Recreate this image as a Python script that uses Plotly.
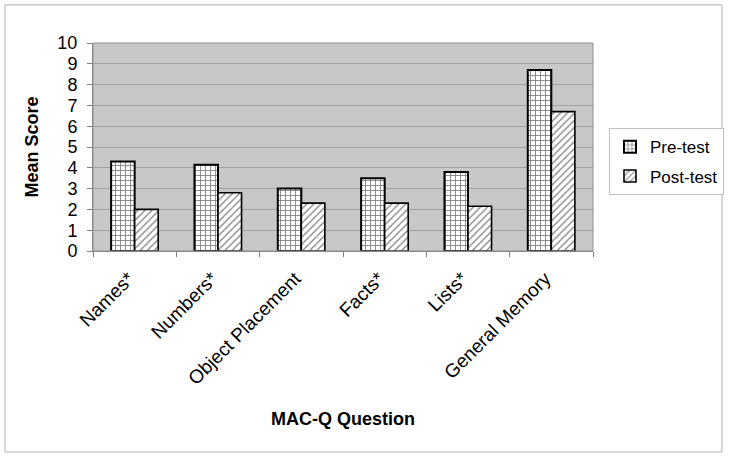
import plotly.graph_objects as go

categories = ["Names*", "Numbers*", "Object Placement", "Facts*", "Lists*", "General Memory"]
pre_test = [4.3, 4.15, 3.0, 3.5, 3.8, 8.7]
post_test = [2.0, 2.8, 2.3, 2.3, 2.15, 6.7]
y_ticks = list(range(0, 11))

FONT = "Liberation Sans, Arial, sans-serif"

fig = go.Figure()
fig.add_trace(go.Bar(
    x=categories, y=pre_test, name="Pre-test", legendgroup="pre",
    marker=dict(color="white", line=dict(color="black", width=2),
                pattern=dict(shape="+", fgcolor="black", bgcolor="white", size=5, solidity=0.32)),
))
fig.add_trace(go.Bar(
    x=categories, y=post_test, name="Post-test", legendgroup="post",
    marker=dict(color="white", line=dict(color="black", width=1.6),
                pattern=dict(shape="/", fgcolor="black", bgcolor="white", size=5, solidity=0.25)),
))

fig.update_layout(
    width=729, height=458,
    margin=dict(l=93, r=136, t=43, b=207, autoexpand=False),
    paper_bgcolor="white",
    plot_bgcolor="#c8c8c8",
    barmode="group",
    bargap=0.435,
    bargroupgap=0,
    font=dict(family=FONT, size=18, color="black"),
    legend=dict(
        x=1.032, y=0.59, xanchor="left", yanchor="top",
        bordercolor="#c0c0c0", borderwidth=1, bgcolor="white",
        font=dict(size=17), tracegroupgap=4, traceorder="grouped",
        itemwidth=30,
    ),
    xaxis=dict(
        title=dict(text="<b>MAC-Q Question</b>", font=dict(size=18), standoff=24),
        tickangle=-45, ticks="outside", tickson="boundaries", ticklen=5,
        tickcolor="#808080", showline=True, linecolor="#808080", linewidth=1,
        mirror=False, tickfont=dict(size=19), automargin=False,
        ticklabelstandoff=8, ticklabelshift=-6,
    ),
    yaxis=dict(
        title=dict(text="<b>Mean Score</b>", font=dict(size=18), standoff=14),
        range=[0, 10], tickvals=y_ticks, ticks="outside", ticklen=5,
        tickcolor="#808080", showline=True, linecolor="#808080", linewidth=1,
        gridcolor="#a0a0a0", gridwidth=1, tickfont=dict(size=18), zeroline=False,
        automargin=False, ticklabelstandoff=6,
    ),
    shapes=[
        dict(type="rect", xref="paper", yref="paper", x0=0, x1=1, y0=0, y1=1,
             line=dict(color="#909090", width=1), layer="above"),
        dict(type="rect", xref="paper", yref="paper", x0=-0.176, x1=1.258, y0=-0.966, y1=1.183,
             line=dict(color="#b0b0b0", width=1)),
    ],
)

fig.write_html("out.html", config={"displayModeBar": False},
               post_script="document.body.style.margin='0';document.body.style.padding='0';")
